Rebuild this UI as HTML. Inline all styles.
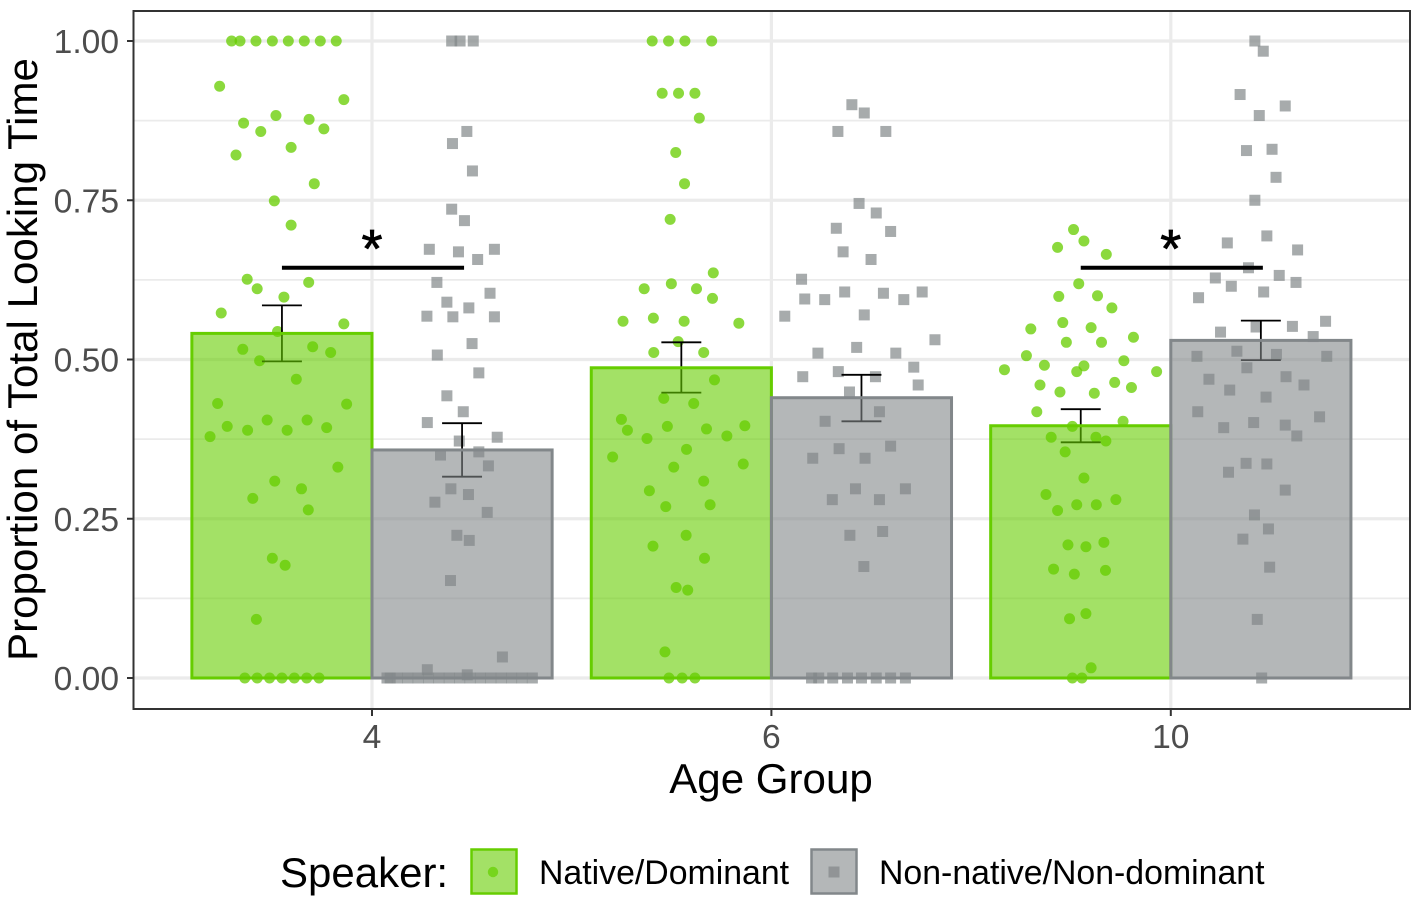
<!DOCTYPE html>
<html lang="en">
<head>
<meta charset="utf-8">
<title>Proportion of Total Looking Time by Age Group</title>
<style>
html,body{margin:0;padding:0;background:#fff;}
body{width:1418px;height:909px;overflow:hidden;}
svg{display:block;font-family:"Liberation Sans",Arial,sans-serif;}
</style>
</head>
<body>
<svg id="chart" xmlns="http://www.w3.org/2000/svg" width="1418" height="909" viewBox="0 0 1418 909">
  <rect x="0" y="0" width="1418" height="909" fill="#fff"/>
  <g id="grid"></g>
  <g id="points"></g>
  <g id="errors"></g>
  <g id="bars"></g>
  <g id="sig"></g>
  <rect x="133.5" y="11" width="1276.5" height="698" fill="none" stroke="#333" stroke-width="2"/>
  <g id="axes"></g>
  <text x="771" y="793" font-size="42.1" text-anchor="middle" fill="#000">Age Group</text>
  <text transform="translate(37 359.5) rotate(-90)" font-size="42.1" text-anchor="middle" fill="#000">Proportion of Total Looking Time</text>
  <g>
    <text x="280" y="887" font-size="42" fill="#000">Speaker:</text>
    <g>
      <rect x="471.5" y="849.5" width="45" height="44" fill="rgba(102,205,0,.6)" stroke="#66cd00" stroke-width="2.5"/>
      <circle cx="493" cy="872" r="5.2" fill="#76d51c"/>
      <text x="539" y="884" font-size="33.85" fill="#000">Native/Dominant</text>
    </g>
    <g>
      <rect x="811.5" y="849.5" width="45" height="44" fill="rgba(130,135,137,.6)" stroke="#82878a" stroke-width="2.5"/>
      <rect x="828.5" y="866.5" width="11" height="11" fill="#919496"/>
      <text x="879" y="884" font-size="33.85" fill="#000">Non-native/Non-dominant</text>
    </g>
  </g>
</svg>
<script>
// ---- chart data ----
const categories = ["4", "6", "10"];
const seriesNames = ["Native/Dominant", "Non-native/Non-dominant"];
const yTickValues = [0, 0.25, 0.5, 0.75, 1];
const yTickLabels = ["0.00", "0.25", "0.50", "0.75", "1.00"];
const yMinorValues = [0.125, 0.375, 0.625, 0.875];

const nativeMeans = [0.541, 0.487, 0.396];
const nonNativeMeans = [0.358, 0.440, 0.530];
const nativeErrLow = [0.497, 0.448, 0.370];
const nativeErrHigh = [0.585, 0.527, 0.422];
const nonNativeErrLow = [0.316, 0.403, 0.499];
const nonNativeErrHigh = [0.400, 0.476, 0.561];

const sigCategories = [0, 2];
const sigLevel = 0.644;
const sigLabel = "*";

const native4Values = [1,1,1,1,1,1,1,1,0.929,0.908,0.871,0.883,0.858,0.877,0.862,0.821,0.833,0.776,0.749,0.711,0.626,0.611,0.621,0.598,0.573,0.556,0.544,0.516,0.520,0.511,0.498,0.469,0.431,0.430,0.395,0.389,0.405,0.389,0.405,0.393,0.379,0.331,0.309,0.297,0.282,0.264,0.188,0.177,0.092,0,0,0,0,0,0,0];
const native4Jitter = [-0.126,-0.105,-0.065,-0.024,0.016,0.056,0.096,0.136,-0.156,0.155,-0.096,-0.015,-0.053,0.068,0.105,-0.115,0.023,0.081,-0.019,0.023,-0.087,-0.062,0.067,0.005,-0.152,0.155,-0.011,-0.098,0.077,0.122,-0.056,0.036,-0.161,0.162,-0.137,-0.086,-0.037,0.013,0.063,0.112,-0.180,0.140,-0.018,0.049,-0.073,0.066,-0.024,0.008,-0.064,-0.093,-0.062,-0.031,0,0.031,0.062,0.093];

const nonNative4Values = [1,1,1,0.858,0.839,0.796,0.736,0.718,0.673,0.669,0.657,0.673,0.621,0.604,0.590,0.581,0.568,0.567,0.567,0.525,0.507,0.479,0.443,0.418,0.401,0.372,0.378,0.350,0.355,0.333,0.297,0.288,0.276,0.260,0.224,0.216,0.153,0.033,0.013,0.005,0,0,0,0,0,0,0,0,0,0,0,0,0,0,0,0];
const nonNative4Jitter = [-0.026,-0.005,0.028,0.012,-0.024,0.026,-0.026,0.006,-0.082,-0.009,0.039,0.081,-0.063,0.070,-0.038,0.017,-0.088,-0.023,0.081,0.025,-0.062,0.042,-0.038,0.003,-0.087,-0.007,0.088,-0.054,0.042,0.066,-0.028,0.016,-0.068,0.063,-0.013,0.018,-0.029,0.101,-0.087,0.013,-0.188,-0.180,-0.162,-0.136,-0.110,-0.084,-0.058,-0.032,-0.006,0.020,0.046,0.072,0.098,0.124,0.150,0.176];

const native6Values = [1,1,1,1,0.918,0.918,0.918,0.879,0.825,0.776,0.720,0.636,0.619,0.611,0.611,0.596,0.560,0.565,0.560,0.557,0.528,0.511,0.511,0.468,0.439,0.431,0.406,0.389,0.395,0.391,0.396,0.376,0.380,0.359,0.347,0.331,0.336,0.309,0.294,0.269,0.272,0.224,0.207,0.188,0.142,0.138,0.041,0,0,0];
const native6Jitter = [-0.073,-0.032,0.009,0.076,-0.048,-0.007,0.034,0.045,-0.014,0.008,-0.028,0.080,-0.025,-0.093,0.038,0.078,-0.146,-0.070,0.007,0.144,-0.008,-0.069,0.056,0.083,-0.044,0.031,-0.150,-0.135,-0.035,0.063,0.159,-0.086,0.114,0.013,-0.172,-0.019,0.155,0.056,-0.080,-0.039,0.072,0.012,-0.071,0.058,-0.013,0.016,-0.041,-0.031,0.002,0.034];

const nonNative6Values = [0.900,0.887,0.858,0.858,0.745,0.730,0.706,0.701,0.669,0.657,0.626,0.595,0.594,0.606,0.604,0.594,0.606,0.568,0.570,0.531,0.510,0.519,0.510,0.488,0.473,0.481,0.473,0.460,0.449,0.418,0.403,0.360,0.364,0.345,0.345,0.297,0.297,0.280,0.280,0.230,0.224,0.175,0,0,0,0,0,0,0,0];
const nonNative6Jitter = [-0.024,0.007,-0.059,0.061,-0.006,0.037,-0.063,0.073,-0.046,0.024,-0.150,-0.142,-0.092,-0.042,0.055,0.106,0.152,-0.192,0.007,0.184,-0.109,-0.012,0.086,0.131,-0.147,-0.058,0.035,0.142,-0.030,0.045,-0.091,-0.056,0.073,-0.122,0.009,-0.015,0.110,-0.073,0.045,0.053,-0.029,0.006,-0.125,-0.107,-0.072,-0.035,0,0.037,0.073,0.110];

const native10Values = [0.704,0.686,0.676,0.665,0.619,0.599,0.600,0.581,0.558,0.548,0.550,0.535,0.527,0.527,0.506,0.484,0.491,0.490,0.481,0.498,0.481,0.460,0.449,0.447,0.464,0.456,0.418,0.403,0.395,0.378,0.378,0.372,0.355,0.314,0.288,0.280,0.272,0.272,0.263,0.209,0.206,0.213,0.171,0.163,0.169,0.101,0.093,0.016,0,0];
const native10Jitter = [-0.018,0.008,-0.058,0.064,-0.005,-0.055,0.042,0.078,-0.045,-0.125,0.026,0.132,-0.036,0.052,-0.136,-0.191,-0.091,0.008,-0.010,0.108,0.190,-0.102,-0.052,0.034,0.085,0.127,-0.110,0.106,-0.021,-0.074,0.038,0.063,-0.039,0.008,-0.087,0.088,-0.010,0.039,-0.058,-0.032,0.013,0.058,-0.068,-0.016,0.062,0.013,-0.028,0.026,-0.021,0.003];

const nonNative10Values = [1,0.984,0.916,0.898,0.883,0.828,0.830,0.786,0.750,0.694,0.683,0.672,0.644,0.628,0.632,0.615,0.621,0.606,0.597,0.551,0.543,0.552,0.560,0.536,0.505,0.513,0.508,0.505,0.487,0.469,0.473,0.460,0.452,0.441,0.418,0.410,0.393,0.401,0.397,0.380,0.337,0.336,0.323,0.295,0.256,0.234,0.218,0.174,0.092,0];
const nonNative10Jitter = [-0.015,0.006,-0.052,0.061,-0.004,-0.036,0.028,0.038,-0.015,0.015,-0.084,0.092,-0.031,-0.114,0.046,-0.074,0.088,0.007,-0.156,-0.012,-0.101,0.079,0.162,0.131,-0.160,-0.060,0.039,0.165,-0.035,-0.130,0.063,0.108,-0.078,0.013,-0.158,0.147,-0.093,-0.018,0.061,0.090,-0.037,0.015,-0.081,0.061,-0.016,0.019,-0.045,0.022,-0.009,0.002];

// ---- axis functions ----
const barWidth = 0.451;
const capHalfWidth = 0.05;
function xScale(v) { return 372 + 399.4 * v; }
function yScale(v) { return 678 - 637 * v; }
function dodge(cat, series) { return cat + (series - 0.5) * barWidth; }

const NS = "http://www.w3.org/2000/svg";
function make(tag, parent, attrs) {
  const el = document.createElementNS(NS, tag);
  for (const k in attrs) el.setAttribute(k, attrs[k]);
  parent.appendChild(el);
  return el;
}

const nativeStyle = { fill: "rgba(102,205,0,.6)", stroke: "#66cd00", point: "rgba(102,205,0,.76)" };
const greyStyle = { fill: "rgba(130,135,137,.6)", stroke: "#82878a", point: "rgba(130,135,137,.7)" };

// ---- grid ----
const gridG = document.getElementById("grid");
yMinorValues.forEach(function (v) {
  const l = make("line", gridG, { x1: 134, x2: 1409, y1: yScale(v), y2: yScale(v), stroke: "#ebebeb", "stroke-width": 1.8 });
  
  
});
yTickValues.forEach(function (v) {
  const l = make("line", gridG, { x1: 134, x2: 1409, y1: yScale(v), y2: yScale(v), stroke: "#ebebeb", "stroke-width": 3.2 });
  
  
});
categories.forEach(function (c, i) {
  const l = make("line", gridG, { x1: xScale(i), x2: xScale(i), y1: 12, y2: 708, stroke: "#ebebeb", "stroke-width": 3.2 });
  
  
});

// ---- points ----
const pointSeries = [
  [0, 0, native4Values, native4Jitter],
  [0, 1, nonNative4Values, nonNative4Jitter],
  [1, 0, native6Values, native6Jitter],
  [1, 1, nonNative6Values, nonNative6Jitter],
  [2, 0, native10Values, native10Jitter],
  [2, 1, nonNative10Values, nonNative10Jitter]
];
const pointsG = document.getElementById("points");
pointSeries.forEach(function (s) {
  const cat = s[0], ser = s[1], vals = s[2], jit = s[3];
  vals.forEach(function (v, i) {
    const px = xScale(dodge(cat, ser) + jit[i]);
    const py = yScale(v);
    let el;
    if (ser === 0) {
      el = make("circle", pointsG, { cx: px, cy: py, r: 5.5, fill: nativeStyle.point });
      
    } else {
      el = make("rect", pointsG, { x: px - 5.5, y: py - 5.5, width: 11, height: 11, fill: greyStyle.point });
      
    }
    
  });
});

// ---- error bars ----
const errorsG = document.getElementById("errors");
function drawError(cat, ser, lo, hi) {
  const cx = dodge(cat, ser);
  const pieces = [
    [cx, lo, cx, hi],
    [cx - capHalfWidth, hi, cx + capHalfWidth, hi],
    [cx - capHalfWidth, lo, cx + capHalfWidth, lo]
  ];
  pieces.forEach(function (p) {
    const l = make("line", errorsG, { x1: xScale(p[0]), y1: yScale(p[1]), x2: xScale(p[2]), y2: yScale(p[3]), stroke: "#000", "stroke-width": 1.8 });
    
    
  });
}
categories.forEach(function (c, i) {
  drawError(i, 0, nativeErrLow[i], nativeErrHigh[i]);
  drawError(i, 1, nonNativeErrLow[i], nonNativeErrHigh[i]);
});

// ---- bars ----
const barsG = document.getElementById("bars");
function drawBar(cat, ser, v, style) {
  const left = xScale(cat + (ser - 1) * barWidth);
  const right = xScale(cat + ser * barWidth);
  const r = make("rect", barsG, { x: left, y: yScale(v), width: right - left, height: yScale(0) - yScale(v), fill: style.fill, stroke: style.stroke, "stroke-width": 3 });
  
  
}
categories.forEach(function (c, i) {
  drawBar(i, 0, nativeMeans[i], nativeStyle);
  drawBar(i, 1, nonNativeMeans[i], greyStyle);
});

// ---- significance annotations ----
const sigG = document.getElementById("sig");
sigCategories.forEach(function (cat) {
  const l = make("line", sigG, { x1: xScale(dodge(cat, 0)), x2: xScale(dodge(cat, 1)) + 2, y1: yScale(sigLevel), y2: yScale(sigLevel), stroke: "#000", "stroke-width": 4 });
  
  
  const t = make("text", sigG, { x: xScale(cat), y: yScale(sigLevel) - 1, "font-size": 54, "text-anchor": "middle", fill: "#000", stroke: "#000", "stroke-width": 0.8 });
  t.textContent = sigLabel;
  
  
});

// ---- axes ----
const axesG = document.getElementById("axes");
yTickValues.forEach(function (v, i) {
  const tick = make("line", axesG, { x1: 127, x2: 133, y1: yScale(v), y2: yScale(v), stroke: "#333", "stroke-width": 2 });
  
  
  const t = make("text", axesG, { x: 119, y: yScale(v) + 12, "font-size": 33.6, "text-anchor": "end", fill: "#4d4d4d" });
  t.textContent = yTickLabels[i];
  
  
});
categories.forEach(function (c, i) {
  const tick = make("line", axesG, { x1: xScale(i), x2: xScale(i), y1: 710, y2: 716, stroke: "#333", "stroke-width": 2 });
  
  
  const t = make("text", axesG, { x: xScale(i), y: 748, "font-size": 33.6, "text-anchor": "middle", fill: "#4d4d4d" });
  t.textContent = c;
  
  
});
</script>
</body>
</html>
